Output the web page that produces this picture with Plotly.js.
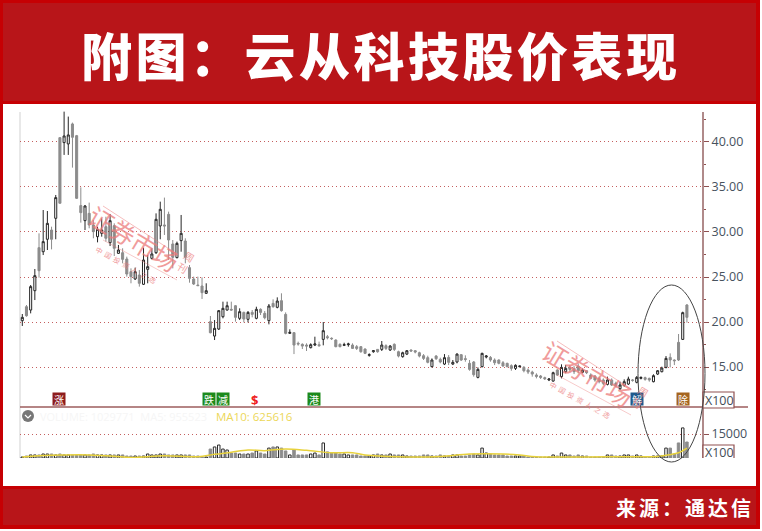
<!DOCTYPE html>
<html><head><meta charset="utf-8">
<script src="https://cdn.plot.ly/plotly-3.0.1.min.js"></script>
<style>
html,body{margin:0;padding:0;background:#fff;overflow:hidden}
text.annotation-text[data-unformatted^="附图"]{letter-spacing:3.5px}
text.annotation-text[data-unformatted^="来源"]{letter-spacing:3px}
</style></head><body><div id="chart" style="width:762px;height:531px"></div>
<script>
const openPrice=[20.15,21.70,21.33,23.48,28.26,27.81,29.19,30.22,31.52,40.48,39.93,39.78,42.00,40.70,32.93,31.26,32.07,30.78,29.48,29.85,30.59,28.81,30.70,27.63,27.70,27.00,25.59,24.78,25.22,24.19,25.85,27.07,27.70,30.67,30.78,31.96,28.67,27.15,29.04,29.00,26.04,24.78,24.11,24.00,23.19,20.04,18.44,19.22,20.59,21.33,21.41,21.81,20.41,21.07,20.30,21.07,20.41,21.41,20.96,20.15,22.07,21.63,22.37,20.85,18.74,18.82,17.63,17.52,17.44,17.15,17.44,17.48,18.07,18.37,18.19,18.00,17.52,17.41,17.48,17.44,17.26,17.26,17.00,16.30,16.70,16.96,16.96,17.37,16.89,17.52,16.70,16.15,16.44,16.89,16.81,16.59,16.26,16.04,15.04,16.22,15.85,15.33,16.07,15.33,15.56,16.37,15.93,15.41,15.56,13.85,15.04,16.11,16.07,15.78,15.78,15.48,15.41,15.15,14.85,15.04,14.96,14.67,14.44,14.11,14.00,13.82,13.56,13.44,14.67,13.93,14.48,14.96,14.85,15.11,14.41,14.59,14.11,14.00,13.74,13.56,13.07,13.56,13.19,12.59,12.96,13.11,13.56,13.30,13.74,13.82,13.74,13.37,14.22,14.48,14.96,16.07,15.78,17.74,18.07,21.89];
const highPrice=[20.89,21.89,24.11,25.89,29.85,32.44,32.33,30.59,34.11,40.48,43.37,42.82,42.15,40.78,34.96,33.00,33.26,31.33,30.59,31.52,31.70,32.00,30.96,28.56,28.19,27.26,25.96,26.04,25.78,28.26,27.44,28.19,32.07,33.37,33.82,32.26,29.11,28.93,31.89,29.30,26.33,25.04,25.04,24.96,24.30,20.67,20.22,21.33,22.26,22.26,22.26,21.89,21.52,21.15,21.22,21.33,21.70,21.52,21.22,22.00,22.52,22.74,23.19,21.07,19.19,18.85,17.82,17.63,17.63,17.63,18.37,17.82,20.00,18.56,18.30,18.07,17.63,17.70,17.70,17.63,17.44,17.33,17.07,16.52,16.89,16.96,17.89,17.52,17.44,17.63,16.81,16.70,16.89,16.96,16.89,16.70,16.44,16.26,15.96,16.33,16.04,16.44,16.33,15.78,16.52,16.44,16.30,15.78,15.67,14.96,16.59,16.33,16.22,15.96,15.85,15.67,15.48,15.30,15.30,15.15,15.11,14.85,14.59,14.30,14.11,13.93,13.74,14.48,14.74,15.30,15.22,15.22,15.11,15.41,14.85,14.67,14.30,14.11,13.93,13.74,13.93,13.74,13.37,13.37,13.63,13.93,13.67,14.00,13.93,13.93,13.82,14.19,14.67,15.04,16.22,16.52,15.85,18.67,21.15,22.00];
const lowPrice=[19.56,20.59,20.96,22.44,24.93,27.44,28.00,28.07,29.19,33.19,38.56,38.56,37.15,33.67,31.04,30.22,30.41,29.30,28.85,29.48,28.93,28.44,27.33,27.56,26.52,25.04,24.30,24.67,23.93,24.11,24.30,26.96,27.56,29.19,29.67,26.89,25.96,27.07,27.81,26.52,24.37,24.11,24.00,22.56,23.11,18.74,18.00,19.11,20.41,21.26,21.26,20.04,20.22,19.96,19.96,20.52,20.30,20.78,20.30,19.74,21.59,21.52,21.15,18.63,18.67,16.44,17.37,17.00,16.78,17.07,17.33,17.26,17.41,18.07,18.00,17.19,17.19,17.33,17.26,17.00,16.89,16.59,16.44,16.15,16.59,16.59,16.78,16.89,16.78,16.78,16.07,16.04,16.33,16.70,16.52,16.07,15.78,15.41,14.96,15.78,15.41,15.22,15.22,15.22,15.41,15.67,15.59,14.59,13.93,13.74,14.96,15.96,15.59,15.22,15.30,15.04,14.96,14.59,14.67,14.96,14.41,14.22,13.93,13.74,13.67,13.56,13.44,13.37,14.00,13.74,14.30,14.48,14.22,14.30,14.30,14.22,13.63,13.37,13.19,13.00,12.96,12.89,12.74,12.44,12.81,13.00,13.37,13.19,13.63,13.48,13.37,13.30,14.11,14.41,14.85,14.96,15.22,15.67,18.00,19.93];
const closePrice=[20.52,20.70,23.93,25.15,25.70,28.93,30.96,29.19,33.82,33.19,40.67,40.78,40.52,33.74,32.15,32.89,30.78,30.04,30.30,30.22,29.30,31.26,28.19,28.00,26.96,25.33,25.04,25.59,24.30,26.89,26.15,27.56,31.41,32.52,30.67,29.11,27.19,28.74,29.85,27.19,24.85,24.22,24.04,23.26,23.48,18.81,19.30,21.26,21.52,21.81,21.33,20.52,21.15,20.33,21.07,20.85,21.41,21.07,20.48,21.78,21.70,22.33,21.26,18.74,18.85,17.44,17.56,17.33,17.33,17.48,17.56,17.37,19.04,18.26,18.15,17.26,17.26,17.48,17.56,17.07,17.07,16.70,16.52,16.37,16.81,16.70,17.44,17.07,17.33,16.96,16.22,16.59,16.81,16.78,16.67,16.22,15.96,15.52,15.78,15.93,15.56,16.04,15.52,15.52,16.44,15.78,15.85,14.74,14.15,14.74,16.52,16.22,15.78,15.48,15.41,15.11,15.04,14.85,15.19,15.11,14.59,14.44,14.22,13.96,13.85,13.70,13.67,14.37,14.11,14.96,14.85,14.74,14.48,14.59,14.67,14.37,13.74,13.56,13.37,13.19,13.56,13.00,12.89,13.00,13.37,13.67,13.52,13.85,13.85,13.63,13.56,14.04,14.59,14.89,15.96,15.78,15.70,15.78,21.04,20.52];
const volume=[620,1250,1900,1900,1900,2500,2500,2500,1900,2500,1900,1900,1900,1900,2000,1900,1900,2500,1900,1900,1900,1900,1900,1900,1900,1250,1250,1250,1250,1250,2500,1900,1900,2500,2500,1900,1900,1900,1900,1900,1900,1250,1250,620,620,5600,6900,8100,5600,5000,3100,3100,2500,2500,2500,3100,4400,3100,2500,6200,6900,6900,6200,4400,1900,5000,1900,1900,1900,2500,3100,1900,9400,3800,3100,3100,2500,2500,1900,1900,1900,1250,1250,1250,1900,2500,1900,1900,2500,1900,1900,1900,1250,1250,1250,1250,1900,1900,1250,1250,1900,1250,1250,1900,1900,1250,1250,1900,2500,1900,6200,3100,2500,1900,1900,1900,1250,1250,1250,1250,1250,620,620,620,620,620,620,1900,1250,3100,1900,1900,1250,1900,1250,1250,620,620,620,620,1900,1900,1250,1250,1900,1900,1250,1900,1250,620,620,1250,1250,1250,6200,6200,2500,9400,18800,10000];
const maPosition=[0,5,10,16,22,26,34,42,46,50,54,58,63,68,74,79,82,90,100,107,115,119,123,140,152,155,157,159];
const maVolume=[600,1600,1900,1900,1100,300,1400,800,2300,3600,5000,4600,5600,4800,3300,3300,1900,800,1000,2500,2500,1900,800,800,1000,2100,3300,6200];
const priceTicks=[15,20,25,30,35,40];
const priceLabels=["15.00","20.00","25.00","30.00","35.00","40.00"];
const volumeTicks=[15000];
const volumeLabels=["15000"];

const W=762,H=531;
const px=v=>v/W, py=v=>1-v/H;
const idx=openPrice.map((_,i)=>i);
const rising=closePrice.map((c,i)=>c>=openPrice[i]);

const traces=[
 {type:'candlestick',x:idx,open:openPrice,high:highPrice,low:lowPrice,close:closePrice,xaxis:'x',yaxis:'y',
  increasing:{line:{color:'#262626',width:1},fillcolor:'#ffffff'},
  decreasing:{line:{color:'#8c8c8c',width:1},fillcolor:'#8c8c8c'},
  whiskerwidth:0,hoverinfo:'skip',showlegend:false},
 {type:'bar',x:idx,y:volume,xaxis:'x2',yaxis:'y2',width:0.6,
  marker:{color:rising.map(r=>r?'#ffffff':'#8c8c8c'),line:{color:rising.map(r=>r?'#2b2b2b':'#8c8c8c'),width:1}},
  hoverinfo:'skip',showlegend:false},
 {type:'scatter',mode:'lines',x:maPosition,y:maVolume,xaxis:'x2',yaxis:'y2',
  line:{color:'#e8d23c',width:1.5,shape:'spline'},hoverinfo:'skip',showlegend:false}
];

const rect=(x0,y0,x1,y1,fill,line,layer)=>({type:'rect',xref:'paper',yref:'paper',x0:px(x0),x1:px(x1),y0:py(y0),y1:py(y1),
  fillcolor:fill,line:line||{width:0},layer:layer||'below'});
const seg=(x0,y0,x1,y1,color,width,layer)=>({type:'line',xref:'paper',yref:'paper',x0:px(x0),x1:px(x1),y0:py(y0),y1:py(y1),
  line:{color,width},layer:layer||'above'});

const shapes=[
 rect(0,0,760,529,'#c60003'),
 rect(3,3,756,101,'#b81519'),
 rect(3,489,756,525,'#b81519'),
 rect(3,104,756,486,'#ffffff'),
 seg(20,112,20,458,'#d9d9d9',1.2,'below'),
 seg(703,112,703,458,'#b08a8a',2),
 seg(20,407,748,407,'#9c5c5c',1.6),
 rect(703,392,734,408,'#ffffff',{color:'#8f5050',width:1.2},'above'),
 {type:'path',xref:'paper',yref:'paper',path:`M ${px(703)} ${py(458)} L ${px(703)} ${py(445)} L ${px(734)} ${py(445)} L ${px(734)} ${py(458)}`,fillcolor:'#ffffff',line:{color:'#8f5050',width:1.2},layer:'above'},
 {type:'circle',xref:'paper',yref:'paper',x0:px(22),x1:px(34),y0:py(410),y1:py(422),fillcolor:'#777777',line:{width:0},layer:'above'},
 {type:'path',xref:'paper',yref:'paper',path:`M ${px(25)} ${py(415)} L ${px(28)} ${py(418)} L ${px(31)} ${py(415)}`,line:{color:'#ffffff',width:1.2},layer:'above'},
 {type:'circle',xref:'paper',yref:'paper',x0:px(638),x1:px(705),y0:py(285),y1:py(462),line:{color:'#444444',width:1},layer:'above'},
];

const label=(x,y,text,size,color,extra)=>Object.assign({xref:'paper',yref:'paper',x:px(x),y:py(y),text,showarrow:false,
  xanchor:'center',yanchor:'middle',font:{size,color,family:'"Noto Sans CJK SC","Noto Sans",sans-serif'}},extra||{});
const badge=(x,y,text,bg)=>label(x,y,text,10,'#ffffff',{bgcolor:bg,width:12,height:12,borderpad:0});

const annotations=[
 label(381,54,'附图：云从科技股价表现',51,'#ffffff',{font:{size:51,color:'#ffffff',weight:900,family:'"Noto Sans CJK SC",sans-serif'}}),
 label(756,507,'来源：通达信',20,'#ffffff',{xanchor:'right',font:{size:20,color:'#ffffff',weight:700,family:'"Noto Sans CJK SC",sans-serif'}}),
 badge(59,399,'涨','#8e1c1c'),
 badge(209,399,'跌','#1c8a1c'),
 badge(223,399,'减','#1c8a1c'),
 label(254,400,'$',12,'#ee2222',{font:{size:13,color:'#ee2222',weight:700,family:'"Noto Sans",sans-serif'}}),
 badge(314,399,'港','#1c8a1c'),
 badge(637,399,'解','#1f5a8c'),
 badge(683,399,'除','#a5651f'),
 label(38,416,'VOLUME: 1029771  MA5: 955523',11,'#f6f6f6',{xanchor:'left',font:{size:11,color:'#f6f6f6',family:'"Open Sans",sans-serif'}}),
 label(214,416,'MA10: 625616',11.5,'#ecd759',{xanchor:'left',font:{size:11.5,color:'#ecd759',family:'"Open Sans",sans-serif'}}),
 label(719,400,'X100',12.5,'#444c56',{font:{size:12.5,color:'#444c56',family:'"Open Sans",sans-serif'}}),
 label(719,452,'X100',12.5,'#444c56',{font:{size:12.5,color:'#444c56',family:'"Open Sans",sans-serif'}}),
];
// two watermarks
[[0,0],[454,135]].forEach(([dx,dy])=>{
 const pink='#ec7a7a';
 annotations.push(label(134+dx,238+dy,'证券市场',25,pink,{textangle:31,opacity:.75}));
 annotations.push(label(186+dx,262+dy,'周<br>刊',10,pink,{textangle:31,opacity:.7}));
 annotations.push(label(126+dx,265+dy,'中  国  投  资  人  之  选',7,pink,{textangle:29,opacity:.75}));
 shapes.push(seg(103+dx,206+dy,177+dx,254+dy,pink,.5));
 shapes.push(seg(103+dx,240+dy,177+dx,280+dy,pink,.4));
});

const gridStyle={showgrid:true,gridcolor:'#c45e5e',griddash:'1px,3px',gridwidth:1,zeroline:false,showline:false,ticks:'outside',ticklen:5,tickcolor:'#8f5050',
  tickfont:{size:12.5,color:'#47525e',family:'"Open Sans",sans-serif'}};
const layout={width:W,height:H,margin:{l:0,r:0,t:0,b:0},paper_bgcolor:'#ffffff',plot_bgcolor:'rgba(0,0,0,0)',showlegend:false,
 font:{family:'"Open Sans",sans-serif'},
 xaxis:{domain:[px(20),px(703)],range:[-0.55,162.85],visible:false,rangeslider:{visible:false},anchor:'y'},
 xaxis2:{domain:[px(20),px(703)],range:[-0.55,162.85],visible:false,anchor:'y2'},
 yaxis:Object.assign({domain:[py(407),py(111)],range:[10.56,43.44],side:'right',anchor:'x',tickvals:priceTicks,ticktext:priceLabels,
  minor:{tickvals:[12.5,17.5,22.5,27.5,32.5,37.5,42.5],ticks:'outside',ticklen:2,tickcolor:'#8f5050',showgrid:false}},gridStyle),
 yaxis2:Object.assign({domain:[py(458),py(408)],range:[0,31250],side:'right',anchor:'x2',tickvals:volumeTicks,ticktext:volumeLabels},gridStyle),
 bargap:0.4,shapes,annotations
};
Plotly.newPlot('chart',traces,layout,{staticPlot:true,displayModeBar:false});
</script></body></html>
